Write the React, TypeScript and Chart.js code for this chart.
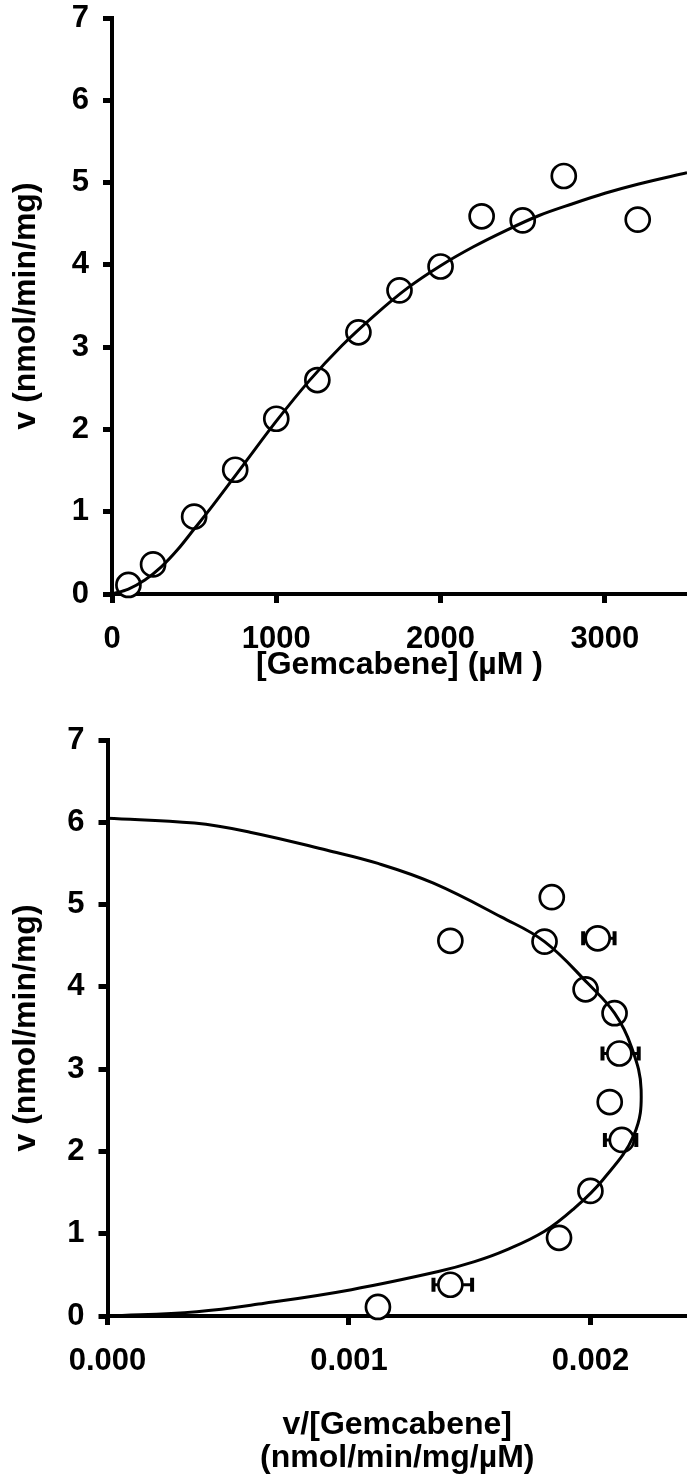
import React, { useEffect, useRef } from 'react';
import { Chart, registerables } from 'chart.js';

Chart.register(...registerables);

const FONT = "'Liberation Sans', Arial, Helvetica, sans-serif";

// ---------- Top chart: v vs [Gemcabene] ----------
const topConc = [100, 250, 500, 750, 1000, 1250, 1500, 1750, 2000, 2250, 2500, 2750, 3200];
const topRate = [0.11, 0.36, 0.94, 1.51, 2.13, 2.6, 3.18, 3.69, 3.98, 4.59, 4.54, 5.08, 4.55];
const topFitConc = [0, 100, 200, 300, 400, 500, 600, 800, 1000, 1200, 1400, 1600, 1800, 2000, 2200, 2400, 2600, 2800, 3000, 3200, 3500];
const topFitRate = [0, 0.06, 0.17, 0.33, 0.54, 0.79, 1.04, 1.57, 2.1, 2.59, 3.02, 3.39, 3.72, 3.99, 4.22, 4.42, 4.6, 4.74, 4.87, 4.98, 5.12];
const topXTicks = [0, 1000, 2000, 3000];
const topXTickLabels = ['0', '1000', '2000', '3000'];
const topXMax = 3500;

// ---------- Bottom chart: v vs v/[Gemcabene] ----------
const botRatio = [0.00112, 0.00142, 0.00187, 0.002, 0.00213, 0.00208, 0.00212, 0.0021, 0.00198, 0.00203, 0.00181, 0.00184, 0.00142];
const botRate = [0.11, 0.38, 0.95, 1.52, 2.14, 2.6, 3.19, 3.68, 3.97, 4.59, 4.55, 5.09, 4.56];
const botErrRate = [0.38, 2.14, 3.19, 4.59];
const botErrLow = [0.00135, 0.00206, 0.00205, 0.00197];
const botErrHigh = [0.00151, 0.00219, 0.0022, 0.0021];
const botFitRatio = [0, 0.00036, 0.00059, 0.00091, 0.00112, 0.00135, 0.00163, 0.00181, 0.00199, 0.0021, 0.00217, 0.00221, 0.00218, 0.00205, 0.00193, 0.00181, 0.00165, 0.00152, 0.00137, 0.00101, 0.00065, 0.00037, 0];
const botFitRate = [6.05, 5.99, 5.88, 5.66, 5.5, 5.26, 4.85, 4.55, 4.04, 3.68, 3.27, 2.75, 2.2, 1.65, 1.3, 1.03, 0.8, 0.66, 0.54, 0.32, 0.155, 0.053, 0];
const botXTicks = [0, 0.001, 0.002];
const botXTickLabels = ['0.000', '0.001', '0.002'];
const botXMax = 0.0024;

const yTicks = [0, 1, 2, 3, 4, 5, 6, 7];
const yTickLabels = ['0', '1', '2', '3', '4', '5', '6', '7'];
const yMax = 7;

const errorBarPlugin = {
  id: 'errorBars',
  beforeDatasetsDraw(chart: any, _args: any, opts: any) {
    if (!opts || !opts.rows) return;
    const { ctx } = chart;
    const xs = chart.scales.x;
    const ys = chart.scales.y;
    ctx.save();
    ctx.strokeStyle = '#000';
    opts.rows.forEach((r: any) => {
      const y = ys.getPixelForValue(r.y);
      const x1 = xs.getPixelForValue(r.lo);
      const x2 = xs.getPixelForValue(r.hi);
      ctx.lineWidth = 3;
      ctx.beginPath();
      ctx.moveTo(x1, y);
      ctx.lineTo(x2, y);
      ctx.stroke();
      ctx.lineWidth = 4;
      ctx.beginPath();
      ctx.moveTo(x1, y - 7);
      ctx.lineTo(x1, y + 7);
      ctx.moveTo(x2, y - 7);
      ctx.lineTo(x2, y + 7);
      ctx.stroke();
    });
    ctx.restore();
  },
};

function makeChart(canvas: HTMLCanvasElement, spec: any) {
  const tickFont = { family: FONT, size: 31, weight: 'bold' as const, lineHeight: 1.2 };
  const titleFont = { family: FONT, size: 32, weight: 'bold' as const, lineHeight: 1.2 };
  const grid = {
    display: true,
    drawOnChartArea: false,
    drawTicks: true,
    tickLength: 9,
    tickWidth: 5,
    tickColor: '#000',
  };
  const border = { display: true, color: '#000', width: 4 };
  return new Chart(canvas, {
    type: 'scatter',
    data: {
      datasets: [
        {
          type: 'line',
          data: spec.fit,
          borderColor: '#000',
          borderWidth: 3,
          pointRadius: 0,
          pointHoverRadius: 0,
          tension: spec.tension,
          cubicInterpolationMode: spec.mono ? 'monotone' : 'default',
          fill: false,
          order: 0,
        } as any,
        {
          type: 'scatter',
          data: spec.points,
          pointRadius: 12,
          pointHoverRadius: 12,
          borderWidth: 2.7,
          borderColor: '#000',
          backgroundColor: '#fff',
          order: 1,
          clip: false,
        } as any,
      ],
    },
    options: {
      responsive: false,
      animation: false,
      devicePixelRatio: 1,
      events: [],
      layout: { autoPadding: false, padding: { top: spec.padTop, left: 0, right: 0, bottom: 0 } },
      plugins: {
        legend: { display: false },
        tooltip: { enabled: false },
        errorBars: { rows: spec.errRows },
      } as any,
      scales: {
        x: {
          type: 'linear',
          min: 0,
          max: spec.xMax,
          afterBuildTicks: (s: any) => {
            s.ticks = spec.xTicks.map((v: number) => ({ value: v }));
          },
          afterFit: (s: any) => {
            s.height = spec.xHeight;
            s.paddingLeft = 0;
            s.paddingRight = 0;
          },
          ticks: {
            callback: (_v: any, i: number) => spec.xLabels[i],
            font: tickFont,
            color: '#000',
            padding: 18,
            maxRotation: 0,
            autoSkip: false,
          },
          grid,
          border,
          title: {
            display: true,
            text: spec.xTitle,
            font: { ...titleFont, lineHeight: 1.03 },
            color: '#000',
            padding: { top: 0, bottom: spec.xTitlePad },
          },
        },
        y: {
          type: 'linear',
          min: 0,
          max: yMax,
          afterBuildTicks: (s: any) => {
            s.ticks = yTicks.map((v) => ({ value: v }));
          },
          afterFit: (s: any) => {
            s.width = spec.yWidth;
            s.paddingTop = 0;
            s.paddingBottom = 0;
          },
          ticks: {
            callback: (_v: any, i: number) => yTickLabels[i],
            font: tickFont,
            color: '#000',
            padding: 14,
            autoSkip: false,
          },
          grid,
          border,
          title: {
            display: true,
            text: 'v (nmol/min/mg)',
            font: titleFont,
            color: '#000',
            padding: { top: 7, bottom: 0 },
          },
        },
      },
    } as any,
    plugins: [errorBarPlugin],
  });
}

function ChartCanvas({ spec, width, height }: { spec: any; width: number; height: number }) {
  const ref = useRef<HTMLCanvasElement | null>(null);
  useEffect(() => {
    if (!ref.current) return;
    const chart = makeChart(ref.current, spec);
    return () => chart.destroy();
  }, []);
  return <canvas ref={ref} width={width} height={height} style={{ display: 'block', width, height }} />;
}

const topSpec = {
  points: topConc.map((x, i) => ({ x, y: topRate[i] })),
  fit: topFitConc.map((x, i) => ({ x, y: topFitRate[i] })),
  mono: true,
  tension: 0.4,
  xMax: topXMax,
  xTicks: topXTicks,
  xLabels: topXTickLabels,
  xTitle: '[Gemcabene] (µM )',
  xTitlePad: 18,
  xHeight: 106,
  yWidth: 112,
  padTop: 18,
  errRows: [],
};

const botSpec = {
  points: botRatio.map((x, i) => ({ x, y: botRate[i] })),
  fit: botFitRatio.map((x, i) => ({ x, y: botFitRate[i] })),
  mono: false,
  tension: 0.4,
  xMax: botXMax,
  xTicks: botXTicks,
  xLabels: botXTickLabels,
  xTitle: ['v/[Gemcabene]', '(nmol/min/mg/µM)'],
  xTitlePad: 4,
  xHeight: 163,
  yWidth: 107.5,
  padTop: 40,
  errRows: botErrRate.map((y, i) => ({ y, lo: botErrLow[i], hi: botErrHigh[i] })),
};

export default function App() {
  return (
    <div style={{ position: 'absolute', left: 0, top: 0, width: 687, height: 1479, background: '#fff' }}>
      <ChartCanvas spec={topSpec} width={687} height={700} />
      <ChartCanvas spec={botSpec} width={687} height={779} />
    </div>
  );
}
